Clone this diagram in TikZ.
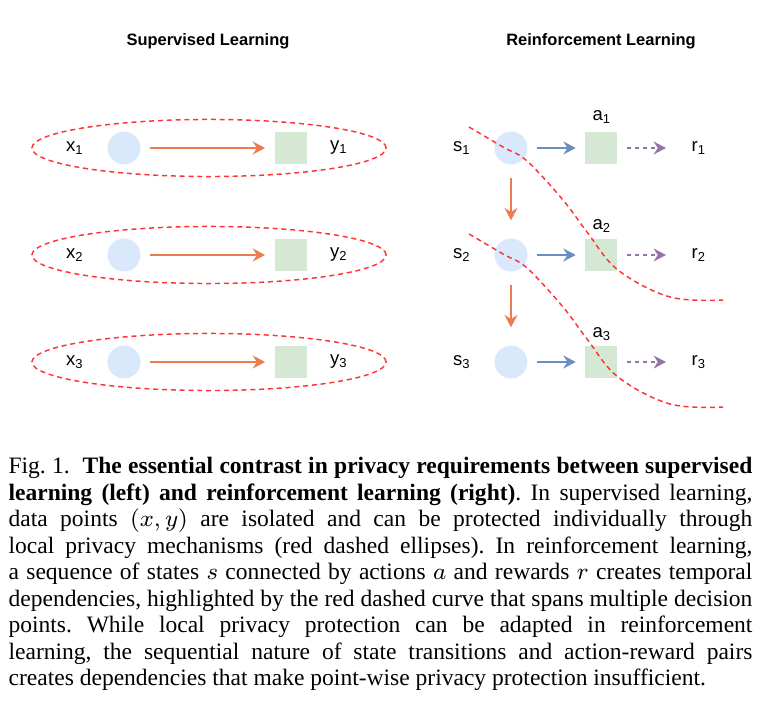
\documentclass[tikz,border=0pt]{standalone}
\usepackage{fontspec}
\setmainfont{Liberation Serif}
\newfontfamily\diagfont{Liberation Sans}
\usetikzlibrary{arrows.meta,positioning}

\definecolor{stateblue}{HTML}{DAE8FC}
\definecolor{actgreen}{HTML}{D5E8D4}
\definecolor{floworange}{HTML}{EA7E4E}
\definecolor{actblue}{HTML}{6C8EBF}
\definecolor{rewpurple}{HTML}{9673A6}
\definecolor{privred}{HTML}{FF3333}

\tikzset{
  state/.style={circle,fill=stateblue,minimum size=11.2pt,inner sep=0pt},
  actbox/.style={rectangle,fill=actgreen,minimum size=11.2pt,inner sep=0pt},
  lbl/.style={font=\diagfont\fontsize{6.3}{7}\selectfont,inner sep=0pt},
  ttl/.style={font=\diagfont\bfseries\fontsize{5.6}{7}\selectfont,inner sep=0pt},
  tip/.style={-{Stealth[length=4.2pt,width=4.4pt,inset=1.4pt]}},
  flow/.style={tip,draw=floworange,line width=0.7pt},
  act/.style={tip,draw=actblue,line width=0.7pt},
  reward/.style={tip,draw=rewpurple,line width=0.6pt,dash pattern=on 1.4pt off 1.4pt},
  privacy/.style={draw=privred,line width=0.5pt,dash pattern=on 1.7pt off 1.3pt}
}

\begin{document}
\begin{tikzpicture}[x=0.34pt,y=-0.34pt]
    \useasboundingbox (0,0) rectangle (762,705);
    % titles
    \node[ttl] (suptitle) at (208,41) {Supervised Learning};
    \node[ttl] (rltitle) at (601,41) {Reinforcement Learning};

    % supervised learning
    \node[state] (x1) at (124,148) {};
    \node[actbox] (y1) at (291,148) {};
    \node[lbl] (x1lbl) at (75,148) {x\textsubscript{1}};
    \node[lbl] (y1lbl) at (339,148) {y\textsubscript{1}};
    \draw[flow,shorten <=2.9pt,shorten >=3pt] (x1) -- (y1);
    \draw[privacy] (209,148) ellipse [x radius=60.2pt,y radius=9.7pt];

    \node[state] (x2) at (124,255) {};
    \node[actbox] (y2) at (291,255) {};
    \node[lbl] (x2lbl) at (75,255) {x\textsubscript{2}};
    \node[lbl] (y2lbl) at (339,255) {y\textsubscript{2}};
    \draw[flow,shorten <=2.9pt,shorten >=3pt] (x2) -- (y2);
    \draw[privacy] (209,255) ellipse [x radius=60.2pt,y radius=9.7pt];

    \node[state] (x3) at (124,362) {};
    \node[actbox] (y3) at (291,362) {};
    \node[lbl] (x3lbl) at (75,362) {x\textsubscript{3}};
    \node[lbl] (y3lbl) at (339,362) {y\textsubscript{3}};
    \draw[flow,shorten <=2.9pt,shorten >=3pt] (x3) -- (y3);
    \draw[privacy] (209,362) ellipse [x radius=60.2pt,y radius=9.7pt];

    % reinforcement learning
    \node[state] (s1) at (511,148) {};
    \node[actbox] (a1) at (601,148) {};
    \node[lbl] (s1lbl) at (462,148) {s\textsubscript{1}};
    \node[lbl] (a1lbl) at (602,117) {a\textsubscript{1}};
    \node[lbl] (r1) at (699,148) {r\textsubscript{1}};

    \node[state] (s2) at (511,255) {};
    \node[actbox] (a2) at (601,255) {};
    \node[lbl] (s2lbl) at (462,255) {s\textsubscript{2}};
    \node[lbl] (a2lbl) at (602,226) {a\textsubscript{2}};
    \node[lbl] (r2) at (699,255) {r\textsubscript{2}};

    \node[state] (s3) at (511,362) {};
    \node[actbox] (a3) at (601,362) {};
    \node[lbl] (s3lbl) at (462,362) {s\textsubscript{3}};
    \node[lbl] (a3lbl) at (602,334) {a\textsubscript{3}};
    \node[lbl] (r3) at (699,362) {r\textsubscript{3}};

    \draw[act,shorten <=2.9pt,shorten >=2.8pt] (s1) -- (a1);
    \draw[act,shorten <=2.9pt,shorten >=2.8pt] (s2) -- (a2);
    \draw[act,shorten <=2.9pt,shorten >=2.8pt] (s3) -- (a3);
    \draw[reward,shorten <=2.9pt,shorten >=8.5pt] (a1) -- (r1);
    \draw[reward,shorten <=2.9pt,shorten >=8.5pt] (a2) -- (r2);
    \draw[reward,shorten <=2.9pt,shorten >=8.5pt] (a3) -- (r3);
    \draw[flow,shorten <=4.3pt,shorten >=6pt] (s1) -- (s2);
    \draw[flow,shorten <=4.3pt,shorten >=6pt] (s2) -- (s3);

    % temporal dependency curves
    \draw[privacy] plot[smooth,tension=0.6] coordinates {(469,127) (503,147) (527,161) (563,200) (587,232) (618,270) (670,297) (723,300)};
    \draw[privacy,shift={(0,107)}] plot[smooth,tension=0.6] coordinates {(469,127) (503,147) (527,161) (563,200) (587,232) (618,270) (670,297) (723,300)};

    % caption
    \node[anchor=north west,text width=252.9pt,align=justify,inner sep=0pt,
          font=\fontsize{8}{9}\selectfont] (caption) at (8,457)
      {\frenchspacing\hyphenpenalty=10000 \tolerance=10000 \hbadness=10000
      Fig.~1.\ \ \textbf{The essential contrast in privacy requirements between supervised\linebreak
      learning (left) and reinforcement learning (right)}. In supervised learning,\linebreak
      data points $(x,y)$ are isolated and can be protected individually through\linebreak
      local privacy mechanisms (red dashed ellipses). In reinforcement learning,\linebreak
      a sequence of states $s$ connected by actions $a$ and rewards $r$ creates temporal\linebreak
      dependencies, highlighted by the red dashed curve that spans multiple decision\linebreak
      points. While local privacy protection can be adapted in reinforcement\linebreak
      learning, the sequential nature of state transitions and action-reward pairs\linebreak
      creates dependencies that make point-wise privacy protection insufficient.};
\end{tikzpicture}
\end{document}
